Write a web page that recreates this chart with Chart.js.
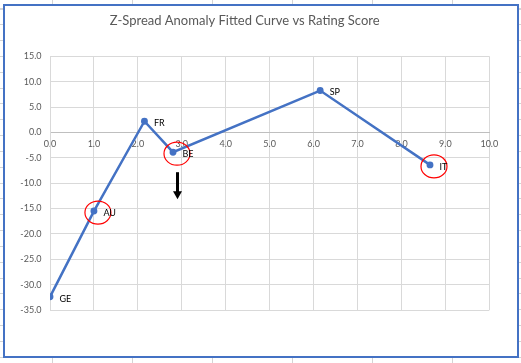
<!DOCTYPE html>
<html>
<head>
<meta charset="utf-8">
<script src="https://cdn.jsdelivr.net/npm/chart.js@4/dist/chart.umd.min.js"></script>
<style>
  html, body { margin: 0; padding: 0; }
  body {
    width: 521px; height: 363px; position: relative; overflow: hidden; background: #fff;
  }
  #sheet {
    position: absolute; left: 0; top: 0; width: 521px; height: 363px;
    background-image:
      repeating-linear-gradient(to right, transparent 0, transparent 52px, #d4d4d4 52px, #d4d4d4 53px, transparent 53px, transparent 80px),
      repeating-linear-gradient(to bottom, transparent 0, transparent 8.5px, #d4d4d4 8.5px, #d4d4d4 9.5px, transparent 9.5px, transparent 15.83px);
  }
  #box {
    position: absolute; left: 3px; top: 4px; width: 516px; height: 354px;
    box-sizing: border-box; border: 2px solid #4472C4; background: #fff;
  }
  canvas { position: absolute; left: 0; top: 0; }
</style>
</head>
<body>
<div id="sheet"></div>
<div id="box"></div>
<canvas id="c" width="521" height="363"></canvas>
<script>
// ---- data ----
const countries = ['GE', 'AU', 'FR', 'BE', 'SP', 'IT'];
const ratingScore = [0.0, 1.0, 2.15, 2.8, 6.15, 8.65];
const zSpreadAnomaly = [-32.4, -15.5, 2.2, -3.9, 8.25, -6.4];
const circled = ['AU', 'BE', 'IT'];
const arrowBelow = ['BE'];
const chartTitle = 'Z-Spread Anomaly Fitted Curve vs Rating Score';
const xMin = 0, xMax = 10, xStep = 1;
const yMin = -35, yMax = 15, yStep = 5;

const points = ratingScore.map((x, i) => ({ x: x, y: zSpreadAnomaly[i] }));
const FONT = 'Lato, "Open Sans", sans-serif';

const labelPlugin = {
  id: 'pointLabels',
  afterDatasetsDraw(chart) {
    const ctx = chart.ctx;
    const meta = chart.getDatasetMeta(0);
    ctx.save();
    meta.data.forEach((el, i) => {
      const name = countries[i];
      if (circled.includes(name)) {
        ctx.beginPath();
        ctx.strokeStyle = '#ff0000';
        ctx.lineWidth = 1.2;
        ctx.ellipse(el.x + 4, el.y + 1.5, 13, 11.5, 0, 0, Math.PI * 2);
        ctx.stroke();
      }
      if (arrowBelow.includes(name)) {
        const ax = el.x + 4.5, y0 = el.y + 20, y1 = el.y + 47;
        ctx.beginPath();
        ctx.strokeStyle = '#000';
        ctx.lineWidth = 3;
        ctx.moveTo(ax, y0);
        ctx.lineTo(ax, y1 - 7);
        ctx.stroke();
        ctx.beginPath();
        ctx.fillStyle = '#000';
        ctx.moveTo(ax - 4.5, y1 - 8);
        ctx.lineTo(ax + 4.5, y1 - 8);
        ctx.lineTo(ax, y1);
        ctx.closePath();
        ctx.fill();
      }
      ctx.fillStyle = '#000';
      ctx.font = '9px ' + FONT;
      ctx.textAlign = 'left';
      ctx.textBaseline = 'middle';
      ctx.fillText(name, el.x + 9.5, el.y + 2);
    });
    ctx.restore();
  }
};

new Chart(document.getElementById('c'), {
  type: 'scatter',
  data: {
    datasets: [{
      data: points,
      showLine: true,
      borderColor: '#4472C4',
      backgroundColor: '#4472C4',
      borderWidth: 2.5,
      pointRadius: 2.2,
      pointHoverRadius: 2.2,
      tension: 0
    }]
  },
  options: {
    responsive: false,
    animation: false,
    devicePixelRatio: 1,
    layout: { padding: { left: 0, right: 31.7, top: 0, bottom: 53 } },
    plugins: {
      legend: { display: false },
      tooltip: { enabled: false },
      title: {
        display: true,
        text: chartTitle,
        color: '#595959',
        font: { family: FONT, size: 13, weight: 'normal' },
        padding: { top: 13.5, bottom: 27.2 }
      }
    },
    scales: {
      x: {
        type: 'linear',
        position: { y: 0 },
        min: xMin, max: xMax,
        ticks: {
          stepSize: xStep,
          color: '#595959',
          font: { family: FONT, size: 9 },
          padding: 6,
          maxRotation: 0,
          callback: v => Number(v).toFixed(1)
        },
        grid: { color: '#d9d9d9', drawTicks: false },
        border: { color: '#bfbfbf', width: 1 },
        afterFit: s => { s.height = 0; }
      },
      y: {
        type: 'linear',
        position: 'left',
        min: yMin, max: yMax,
        ticks: {
          stepSize: yStep,
          color: '#595959',
          font: { family: FONT, size: 9 },
          padding: 8.5,
          callback: v => Number(v).toFixed(1)
        },
        grid: { color: '#d9d9d9', drawTicks: false },
        border: { color: '#d9d9d9', width: 1 },
        afterFit: s => { s.width = 50; }
      }
    }
  },
  plugins: [labelPlugin]
});
</script>
</body>
</html>
